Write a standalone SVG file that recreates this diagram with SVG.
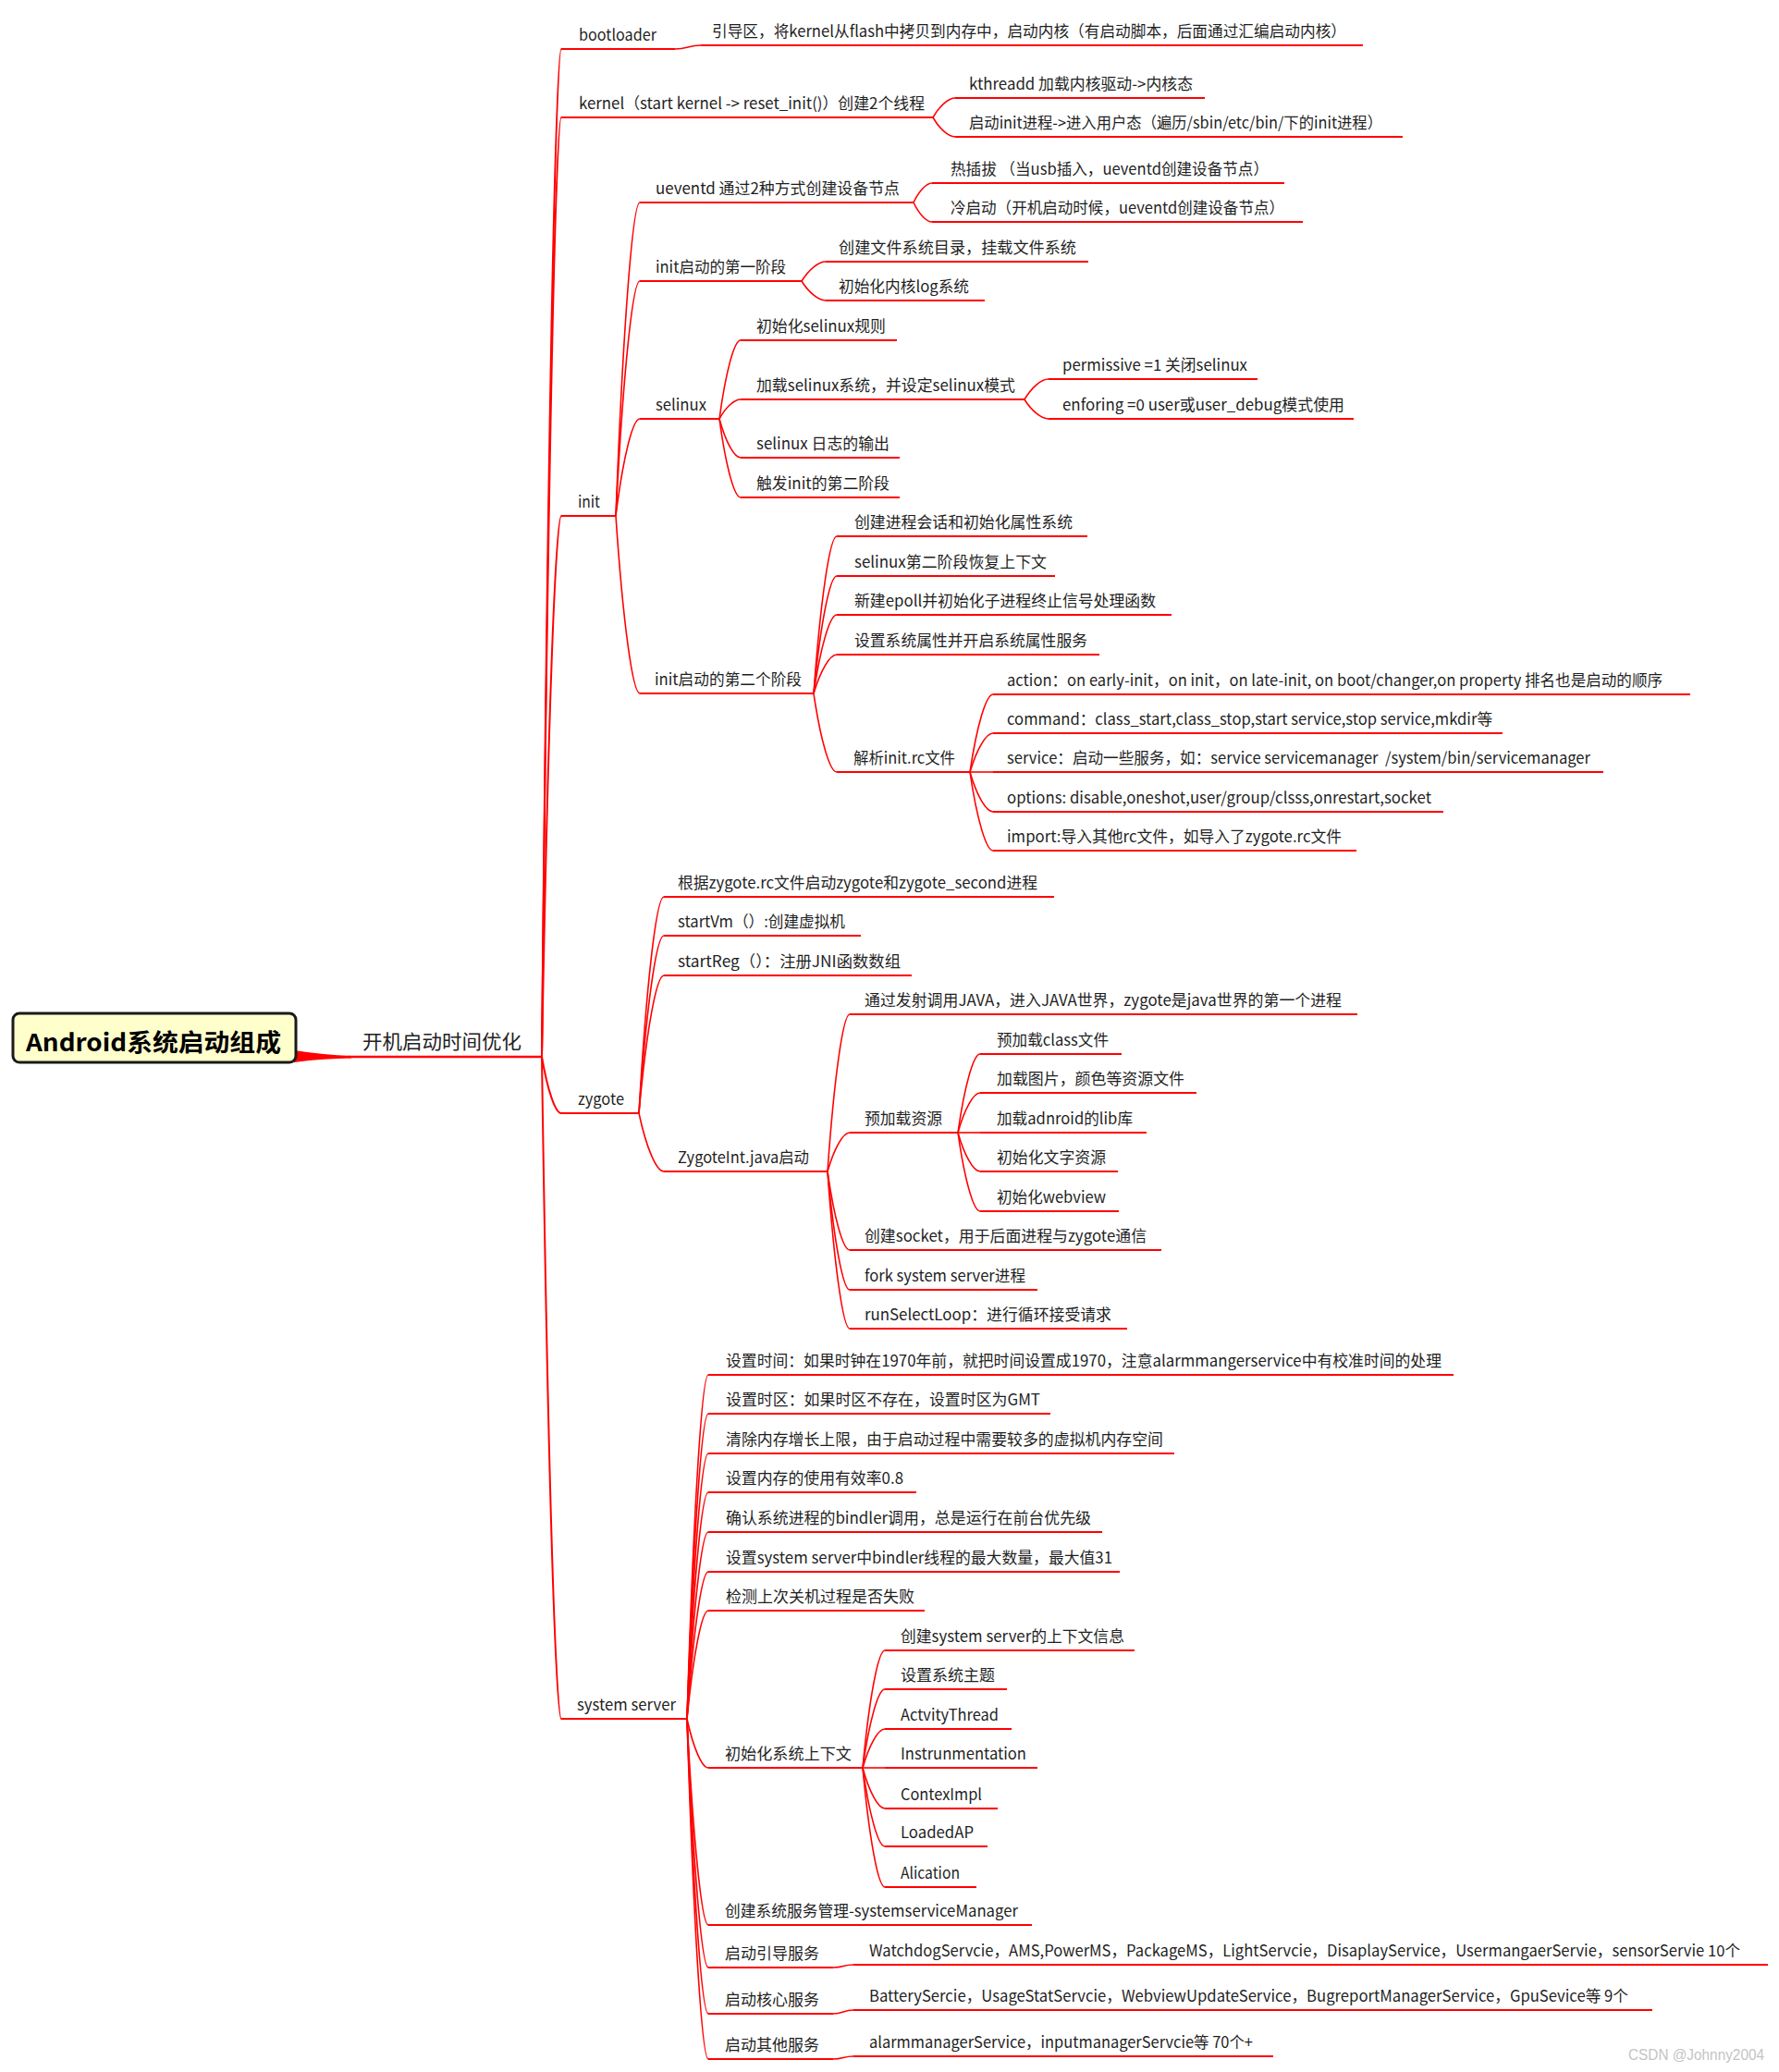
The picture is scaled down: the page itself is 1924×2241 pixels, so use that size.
<svg xmlns="http://www.w3.org/2000/svg" width="1924" height="2241" viewBox="0 0 1924 2241">
<style>
.t{font-family:"Noto Sans CJK SC","Noto Sans",sans-serif;font-size:17px;fill:#1f1f1f}
.u{stroke:#ff0000;stroke-width:2;fill:none}
.c{stroke:#ff0000;stroke-width:1.6;fill:none}
.c2{stroke:#ff0000;stroke-width:2;fill:none}
</style>
<rect width="1924" height="2241" fill="#ffffff"/>
<g id="connectors">
<path d="M318,1136 C340,1139 360,1141.5 380,1142 L380,1144.5 C360,1145 340,1146 318,1149 Z" fill="#ff0000"/>
<path class="c2" d="M586,1143 C592.3,489 600.7,53 607,53"/>
<path class="c2" d="M586,1143 C592.3,533 600.7,127 607,127"/>
<path class="c2" d="M586,1143 C592.3,792 600.7,558 607,558"/>
<path class="c2" d="M586,1143 C592.3,1180 600.7,1204 607,1204"/>
<path class="c2" d="M586,1143 C592.3,1573 600.7,1859 607,1859"/>
<path class="c" d="M730,53 C744,53 744,49 758,49"/>
<path class="c" d="M1009,127 C1016.2,114.4 1025.8,106 1033,106"/>
<path class="c" d="M1009,127 C1016.2,139.6 1025.8,148 1033,148"/>
<path class="c" d="M666,558 C673.8,354.6 684.2,219 692,219"/>
<path class="c" d="M666,558 C673.8,405.6 684.2,304 692,304"/>
<path class="c" d="M666,558 C673.8,495 684.2,453 692,453"/>
<path class="c" d="M666,558 C673.8,673.2 684.2,750 692,750"/>
<path class="c" d="M988,219 C994,206.4 1002,198 1008,198"/>
<path class="c" d="M988,219 C994,231.6 1002,240 1008,240"/>
<path class="c" d="M867,304 C874.8,291.4 885.2,283 893,283"/>
<path class="c" d="M867,304 C874.8,316.6 885.2,325 893,325"/>
<path class="c" d="M778,453 C784.9,402 794.1,368 801,368"/>
<path class="c" d="M778,453 C784.9,440.4 794.1,432 801,432"/>
<path class="c" d="M778,453 C784.9,478.2 794.1,495 801,495"/>
<path class="c" d="M778,453 C784.9,504 794.1,538 801,538"/>
<path class="c" d="M1108,432 C1115.8,418.8 1126.2,410 1134,410"/>
<path class="c" d="M1108,432 C1115.8,444.6 1126.2,453 1134,453"/>
<path class="c" d="M880,750 C887.5,648 897.5,580 905,580"/>
<path class="c" d="M880,750 C887.5,673.8 897.5,623 905,623"/>
<path class="c" d="M880,750 C887.5,699 897.5,665 905,665"/>
<path class="c" d="M880,750 C887.5,724.8 897.5,708 905,708"/>
<path class="c" d="M880,750 C887.5,801 897.5,835 905,835"/>
<path class="c" d="M1049,835 C1056.5,784.6 1066.5,751 1074,751"/>
<path class="c" d="M1049,835 C1056.5,809.8 1066.5,793 1074,793"/>
<path class="c" d="M1049,835 L1074,835"/>
<path class="c" d="M1049,835 C1056.5,860.8 1066.5,878 1074,878"/>
<path class="c" d="M1049,835 C1056.5,886 1066.5,920 1074,920"/>
<path class="c" d="M691,1204 C699.1,1063.6 709.9,970 718,970"/>
<path class="c" d="M691,1204 C699.1,1088.8 709.9,1012 718,1012"/>
<path class="c" d="M691,1204 C699.1,1114.6 709.9,1055 718,1055"/>
<path class="c" d="M691,1204 C699.1,1241.8 709.9,1267 718,1267"/>
<path class="c" d="M895,1267 C902.2,1165 911.8,1097 919,1097"/>
<path class="c" d="M895,1267 C902.2,1241.8 911.8,1225 919,1225"/>
<path class="c" d="M895,1267 C902.2,1318 911.8,1352 919,1352"/>
<path class="c" d="M895,1267 C902.2,1343.8 911.8,1395 919,1395"/>
<path class="c" d="M895,1267 C902.2,1369 911.8,1437 919,1437"/>
<path class="c" d="M1036,1225 C1043.2,1174 1052.8,1140 1060,1140"/>
<path class="c" d="M1036,1225 C1043.2,1199.2 1052.8,1182 1060,1182"/>
<path class="c" d="M1036,1225 L1060,1225"/>
<path class="c" d="M1036,1225 C1043.2,1250.2 1052.8,1267 1060,1267"/>
<path class="c" d="M1036,1225 C1043.2,1276 1052.8,1310 1060,1310"/>
<path class="c" d="M743,1859 C749.9,1635.8 759.1,1487 766,1487"/>
<path class="c" d="M743,1859 C749.9,1661 759.1,1529 766,1529"/>
<path class="c" d="M743,1859 C749.9,1686.8 759.1,1572 766,1572"/>
<path class="c" d="M743,1859 C749.9,1712 759.1,1614 766,1614"/>
<path class="c" d="M743,1859 C749.9,1737.8 759.1,1657 766,1657"/>
<path class="c" d="M743,1859 C749.9,1763.6 759.1,1700 766,1700"/>
<path class="c" d="M743,1859 C749.9,1788.8 759.1,1742 766,1742"/>
<path class="c" d="M743,1859 C749.9,1890.8 759.1,1912 766,1912"/>
<path class="c" d="M743,1859 C749.9,1992.8 759.1,2082 766,2082"/>
<path class="c" d="M743,1859 C749.9,2020.4 759.1,2128 766,2128"/>
<path class="c" d="M743,1859 C749.9,2050.4 759.1,2178 766,2178"/>
<path class="c" d="M743,1859 C749.9,2079.8 759.1,2227 766,2227"/>
<path class="c" d="M933,1912 C940.2,1835.8 949.8,1785 957,1785"/>
<path class="c" d="M933,1912 C940.2,1861 949.8,1827 957,1827"/>
<path class="c" d="M933,1912 C940.2,1886.8 949.8,1870 957,1870"/>
<path class="c" d="M933,1912 L957,1912"/>
<path class="c" d="M933,1912 C940.2,1938.4 949.8,1956 957,1956"/>
<path class="c" d="M933,1912 C940.2,1963 949.8,1997 957,1997"/>
<path class="c" d="M933,1912 C940.2,1989.4 949.8,2041 957,2041"/>
<path class="c" d="M901,2128 C912,2128 912,2125 923,2125"/>
<path class="c" d="M901,2178 C912,2178 912,2174 923,2174"/>
<path class="c" d="M901,2227 C912,2227 912,2224 923,2224"/>
</g>
<g id="n-root">
<rect x="14" y="1096" width="306" height="53" rx="7" fill="#ffffcc" stroke="#1a1a1a" stroke-width="3"/>
<text x="28" y="1137" textLength="276" lengthAdjust="spacingAndGlyphs" style="font-family:'Noto Sans CJK SC','Noto Sans',sans-serif;font-size:26px;font-weight:bold;fill:#000">Android系统启动组成</text>
</g>
<g id="n-main">
<path d="M376,1143 H586" stroke="#ff0000" stroke-width="2.6" fill="none"/>
<text x="392" y="1134" textLength="172" lengthAdjust="spacingAndGlyphs" style="font-family:'Noto Sans CJK SC','Noto Sans',sans-serif;font-size:21px;fill:#222">开机启动时间优化</text>
</g>
<g id="n-bootloader"><path class="u" d="M607,53 H730"/><text class="t" x="626" y="43.5" textLength="84" lengthAdjust="spacingAndGlyphs">bootloader</text></g>
<g id="n-bootloader-desc"><path class="u" d="M758,49 H1474"/><text class="t" x="770" y="39.5" textLength="686" lengthAdjust="spacingAndGlyphs">引导区，将kernel从flash中拷贝到内存中，启动内核（有启动脚本，后面通过汇编启动内核）</text></g>
<g id="n-kernel"><path class="u" d="M607,127 H1009"/><text class="t" x="626" y="117.5" textLength="374" lengthAdjust="spacingAndGlyphs">kernel（start kernel -&gt; reset_init()）创建2个线程</text></g>
<g id="n-kthreadd"><path class="u" d="M1033,106 H1303"/><text class="t" x="1048" y="96.5" textLength="242" lengthAdjust="spacingAndGlyphs">kthreadd 加载内核驱动-&gt;内核态</text></g>
<g id="n-start-init"><path class="u" d="M1033,148 H1517"/><text class="t" x="1048" y="138.5" textLength="447" lengthAdjust="spacingAndGlyphs">启动init进程-&gt;进入用户态（遍历/sbin/etc/bin/下的init进程）</text></g>
<g id="n-init"><path class="u" d="M607,558 H666"/><text class="t" x="625" y="548.5" textLength="24" lengthAdjust="spacingAndGlyphs">init</text></g>
<g id="n-ueventd"><path class="u" d="M692,219 H988"/><text class="t" x="709" y="209.5" textLength="264" lengthAdjust="spacingAndGlyphs">ueventd 通过2种方式创建设备节点</text></g>
<g id="n-hotplug"><path class="u" d="M1008,198 H1389"/><text class="t" x="1028" y="188.5" textLength="344" lengthAdjust="spacingAndGlyphs">热插拔 （当usb插入，ueventd创建设备节点）</text></g>
<g id="n-coldboot"><path class="u" d="M1008,240 H1409"/><text class="t" x="1028" y="230.5" textLength="361" lengthAdjust="spacingAndGlyphs">冷启动（开机启动时候，ueventd创建设备节点）</text></g>
<g id="n-init-stage1"><path class="u" d="M692,304 H867"/><text class="t" x="709" y="294.5" textLength="141" lengthAdjust="spacingAndGlyphs">init启动的第一阶段</text></g>
<g id="n-mkfs"><path class="u" d="M893,283 H1177"/><text class="t" x="907" y="273.5" textLength="257" lengthAdjust="spacingAndGlyphs">创建文件系统目录，挂载文件系统</text></g>
<g id="n-klog"><path class="u" d="M893,325 H1065"/><text class="t" x="907" y="315.5" textLength="141" lengthAdjust="spacingAndGlyphs">初始化内核log系统</text></g>
<g id="n-selinux"><path class="u" d="M692,453 H778"/><text class="t" x="709" y="443.5" textLength="55" lengthAdjust="spacingAndGlyphs">selinux</text></g>
<g id="n-se-rules"><path class="u" d="M801,368 H970"/><text class="t" x="818" y="358.5" textLength="140" lengthAdjust="spacingAndGlyphs">初始化selinux规则</text></g>
<g id="n-se-load"><path class="u" d="M801,432 H1108"/><text class="t" x="818" y="422.5" textLength="280" lengthAdjust="spacingAndGlyphs">加载selinux系统，并设定selinux模式</text></g>
<g id="n-permissive"><path class="u" d="M1134,410 H1360"/><text class="t" x="1149" y="400.5" textLength="200" lengthAdjust="spacingAndGlyphs">permissive =1 关闭selinux</text></g>
<g id="n-enforing"><path class="u" d="M1134,453 H1464"/><text class="t" x="1149" y="443.5" textLength="305" lengthAdjust="spacingAndGlyphs">enforing =0 user或user_debug模式使用</text></g>
<g id="n-se-log"><path class="u" d="M801,495 H973"/><text class="t" x="818" y="485.5" textLength="144" lengthAdjust="spacingAndGlyphs">selinux 日志的输出</text></g>
<g id="n-se-trigger"><path class="u" d="M801,538 H973"/><text class="t" x="818" y="528.5" textLength="144" lengthAdjust="spacingAndGlyphs">触发init的第二阶段</text></g>
<g id="n-init-stage2"><path class="u" d="M692,750 H880"/><text class="t" x="708" y="740.5" textLength="159" lengthAdjust="spacingAndGlyphs">init启动的第二个阶段</text></g>
<g id="n-session"><path class="u" d="M905,580 H1176"/><text class="t" x="924" y="570.5" textLength="236" lengthAdjust="spacingAndGlyphs">创建进程会话和初始化属性系统</text></g>
<g id="n-se-restore"><path class="u" d="M905,623 H1141"/><text class="t" x="924" y="613.5" textLength="208" lengthAdjust="spacingAndGlyphs">selinux第二阶段恢复上下文</text></g>
<g id="n-epoll"><path class="u" d="M905,665 H1267"/><text class="t" x="924" y="655.5" textLength="326" lengthAdjust="spacingAndGlyphs">新建epoll并初始化子进程终止信号处理函数</text></g>
<g id="n-props"><path class="u" d="M905,708 H1189"/><text class="t" x="924" y="698.5" textLength="252" lengthAdjust="spacingAndGlyphs">设置系统属性并开启系统属性服务</text></g>
<g id="n-parse-rc"><path class="u" d="M905,835 H1049"/><text class="t" x="923" y="825.5" textLength="110" lengthAdjust="spacingAndGlyphs">解析init.rc文件</text></g>
<g id="n-action"><path class="u" d="M1074,751 H1828"/><text class="t" x="1089" y="741.5" textLength="709" lengthAdjust="spacingAndGlyphs">action：on early-init，on init，on late-init, on boot/changer,on property 排名也是启动的顺序</text></g>
<g id="n-command"><path class="u" d="M1074,793 H1625"/><text class="t" x="1089" y="783.5" textLength="525" lengthAdjust="spacingAndGlyphs">command：class_start,class_stop,start service,stop service,mkdir等</text></g>
<g id="n-service"><path class="u" d="M1074,835 H1734"/><text class="t" x="1089" y="825.5" textLength="631" lengthAdjust="spacingAndGlyphs" xml:space="preserve">service：启动一些服务，如：service servicemanager  /system/bin/servicemanager</text></g>
<g id="n-options"><path class="u" d="M1074,878 H1561"/><text class="t" x="1089" y="868.5" textLength="459" lengthAdjust="spacingAndGlyphs">options: disable,oneshot,user/group/clsss,onrestart,socket</text></g>
<g id="n-import"><path class="u" d="M1074,920 H1467"/><text class="t" x="1089" y="910.5" textLength="362" lengthAdjust="spacingAndGlyphs">import:导入其他rc文件，如导入了zygote.rc文件</text></g>
<g id="n-zygote"><path class="u" d="M607,1204 H691"/><text class="t" x="625" y="1194.5" textLength="50" lengthAdjust="spacingAndGlyphs">zygote</text></g>
<g id="n-zygote-rc"><path class="u" d="M718,970 H1140"/><text class="t" x="733" y="960.5" textLength="389" lengthAdjust="spacingAndGlyphs">根据zygote.rc文件启动zygote和zygote_second进程</text></g>
<g id="n-startvm"><path class="u" d="M718,1012 H931"/><text class="t" x="733" y="1002.5" textLength="181" lengthAdjust="spacingAndGlyphs">startVm（）:创建虚拟机</text></g>
<g id="n-startreg"><path class="u" d="M718,1055 H986"/><text class="t" x="733" y="1045.5" textLength="241" lengthAdjust="spacingAndGlyphs">startReg（）：注册JNI函数数组</text></g>
<g id="n-zygoteinit"><path class="u" d="M718,1267 H895"/><text class="t" x="733" y="1257.5" textLength="142" lengthAdjust="spacingAndGlyphs">ZygoteInt.java启动</text></g>
<g id="n-java-world"><path class="u" d="M919,1097 H1468"/><text class="t" x="935" y="1087.5" textLength="516" lengthAdjust="spacingAndGlyphs">通过发射调用JAVA，进入JAVA世界，zygote是java世界的第一个进程</text></g>
<g id="n-preload"><path class="u" d="M919,1225 H1036"/><text class="t" x="935" y="1215.5" textLength="84" lengthAdjust="spacingAndGlyphs">预加载资源</text></g>
<g id="n-preload-class"><path class="u" d="M1060,1140 H1213"/><text class="t" x="1078" y="1130.5" textLength="121" lengthAdjust="spacingAndGlyphs">预加载class文件</text></g>
<g id="n-preload-img"><path class="u" d="M1060,1182 H1294"/><text class="t" x="1078" y="1172.5" textLength="203" lengthAdjust="spacingAndGlyphs">加载图片，颜色等资源文件</text></g>
<g id="n-preload-lib"><path class="u" d="M1060,1225 H1240"/><text class="t" x="1078" y="1215.5" textLength="147" lengthAdjust="spacingAndGlyphs">加载adnroid的lib库</text></g>
<g id="n-preload-text"><path class="u" d="M1060,1267 H1209"/><text class="t" x="1078" y="1257.5" textLength="118" lengthAdjust="spacingAndGlyphs">初始化文字资源</text></g>
<g id="n-preload-webview"><path class="u" d="M1060,1310 H1210"/><text class="t" x="1078" y="1300.5" textLength="118" lengthAdjust="spacingAndGlyphs">初始化webview</text></g>
<g id="n-socket"><path class="u" d="M919,1352 H1256"/><text class="t" x="935" y="1342.5" textLength="305" lengthAdjust="spacingAndGlyphs">创建socket，用于后面进程与zygote通信</text></g>
<g id="n-fork"><path class="u" d="M919,1395 H1122"/><text class="t" x="935" y="1385.5" textLength="174" lengthAdjust="spacingAndGlyphs">fork system server进程</text></g>
<g id="n-runselect"><path class="u" d="M919,1437 H1219"/><text class="t" x="935" y="1427.5" textLength="267" lengthAdjust="spacingAndGlyphs">runSelectLoop：进行循环接受请求</text></g>
<g id="n-sysserver"><path class="u" d="M607,1859 H743"/><text class="t" x="624" y="1849.5" textLength="107" lengthAdjust="spacingAndGlyphs">system server</text></g>
<g id="n-ss-time"><path class="u" d="M766,1487 H1572"/><text class="t" x="785" y="1477.5" textLength="774" lengthAdjust="spacingAndGlyphs">设置时间：如果时钟在1970年前，就把时间设置成1970，注意alarmmangerservice中有校准时间的处理</text></g>
<g id="n-ss-tz"><path class="u" d="M766,1529 H1136"/><text class="t" x="785" y="1519.5" textLength="340" lengthAdjust="spacingAndGlyphs">设置时区：如果时区不存在，设置时区为GMT</text></g>
<g id="n-ss-mem"><path class="u" d="M766,1572 H1270"/><text class="t" x="785" y="1562.5" textLength="473" lengthAdjust="spacingAndGlyphs">清除内存增长上限，由于启动过程中需要较多的虚拟机内存空间</text></g>
<g id="n-ss-memrate"><path class="u" d="M766,1614 H991"/><text class="t" x="785" y="1604.5" textLength="192" lengthAdjust="spacingAndGlyphs">设置内存的使用有效率0.8</text></g>
<g id="n-ss-binder"><path class="u" d="M766,1657 H1192"/><text class="t" x="785" y="1647.5" textLength="395" lengthAdjust="spacingAndGlyphs">确认系统进程的bindler调用，总是运行在前台优先级</text></g>
<g id="n-ss-binder-max"><path class="u" d="M766,1700 H1211"/><text class="t" x="785" y="1690.5" textLength="418" lengthAdjust="spacingAndGlyphs">设置system server中bindler线程的最大数量，最大值31</text></g>
<g id="n-ss-shutdown"><path class="u" d="M766,1742 H1000"/><text class="t" x="785" y="1732.5" textLength="204" lengthAdjust="spacingAndGlyphs">检测上次关机过程是否失败</text></g>
<g id="n-ss-context"><path class="u" d="M766,1912 H933"/><text class="t" x="784" y="1902.5" textLength="137" lengthAdjust="spacingAndGlyphs">初始化系统上下文</text></g>
<g id="n-ctx-info"><path class="u" d="M957,1785 H1227"/><text class="t" x="974" y="1775.5" textLength="242" lengthAdjust="spacingAndGlyphs">创建system server的上下文信息</text></g>
<g id="n-ctx-theme"><path class="u" d="M957,1827 H1089"/><text class="t" x="974" y="1817.5" textLength="102" lengthAdjust="spacingAndGlyphs">设置系统主题</text></g>
<g id="n-ctx-activity"><path class="u" d="M957,1870 H1094"/><text class="t" x="974" y="1860.5" textLength="106" lengthAdjust="spacingAndGlyphs">ActvityThread</text></g>
<g id="n-ctx-instr"><path class="u" d="M957,1912 H1122"/><text class="t" x="974" y="1902.5" textLength="136" lengthAdjust="spacingAndGlyphs">Instrunmentation</text></g>
<g id="n-ctx-impl"><path class="u" d="M957,1956 H1079"/><text class="t" x="974" y="1946.5" textLength="88" lengthAdjust="spacingAndGlyphs">ContexImpl</text></g>
<g id="n-ctx-loaded"><path class="u" d="M957,1997 H1068"/><text class="t" x="974" y="1987.5" textLength="79" lengthAdjust="spacingAndGlyphs">LoadedAP</text></g>
<g id="n-ctx-app"><path class="u" d="M957,2041 H1056"/><text class="t" x="974" y="2031.5" textLength="64" lengthAdjust="spacingAndGlyphs">Alication</text></g>
<g id="n-ss-ssm"><path class="u" d="M766,2082 H1116"/><text class="t" x="784" y="2072.5" textLength="317" lengthAdjust="spacingAndGlyphs">创建系统服务管理-systemserviceManager</text></g>
<g id="n-ss-boot"><path class="u" d="M766,2128 H901"/><text class="t" x="784" y="2118.5" textLength="102" lengthAdjust="spacingAndGlyphs">启动引导服务</text></g>
<g id="n-boot-list"><path class="u" d="M923,2125 H1912"/><text class="t" x="940" y="2115.5" textLength="942" lengthAdjust="spacingAndGlyphs">WatchdogServcie，AMS,PowerMS，PackageMS，LightServcie，DisaplayService，UsermangaerServie，sensorServie 10个</text></g>
<g id="n-ss-core"><path class="u" d="M766,2178 H901"/><text class="t" x="784" y="2168.5" textLength="102" lengthAdjust="spacingAndGlyphs">启动核心服务</text></g>
<g id="n-core-list"><path class="u" d="M923,2174 H1787"/><text class="t" x="940" y="2164.5" textLength="821" lengthAdjust="spacingAndGlyphs">BatterySercie，UsageStatServcie，WebviewUpdateService，BugreportManagerService，GpuSevice等 9个</text></g>
<g id="n-ss-other"><path class="u" d="M766,2227 H901"/><text class="t" x="784" y="2217.5" textLength="102" lengthAdjust="spacingAndGlyphs">启动其他服务</text></g>
<g id="n-other-list"><path class="u" d="M923,2224 H1377"/><text class="t" x="940" y="2214.5" textLength="415" lengthAdjust="spacingAndGlyphs">alarmmanagerService，inputmanagerServcie等 70个+</text></g>
<text x="1761" y="2228" textLength="147" lengthAdjust="spacingAndGlyphs" style="font-family:'Liberation Sans','Noto Sans',sans-serif;font-size:16px;fill:#c4c4c4">CSDN @Johnny2004</text>
</svg>
